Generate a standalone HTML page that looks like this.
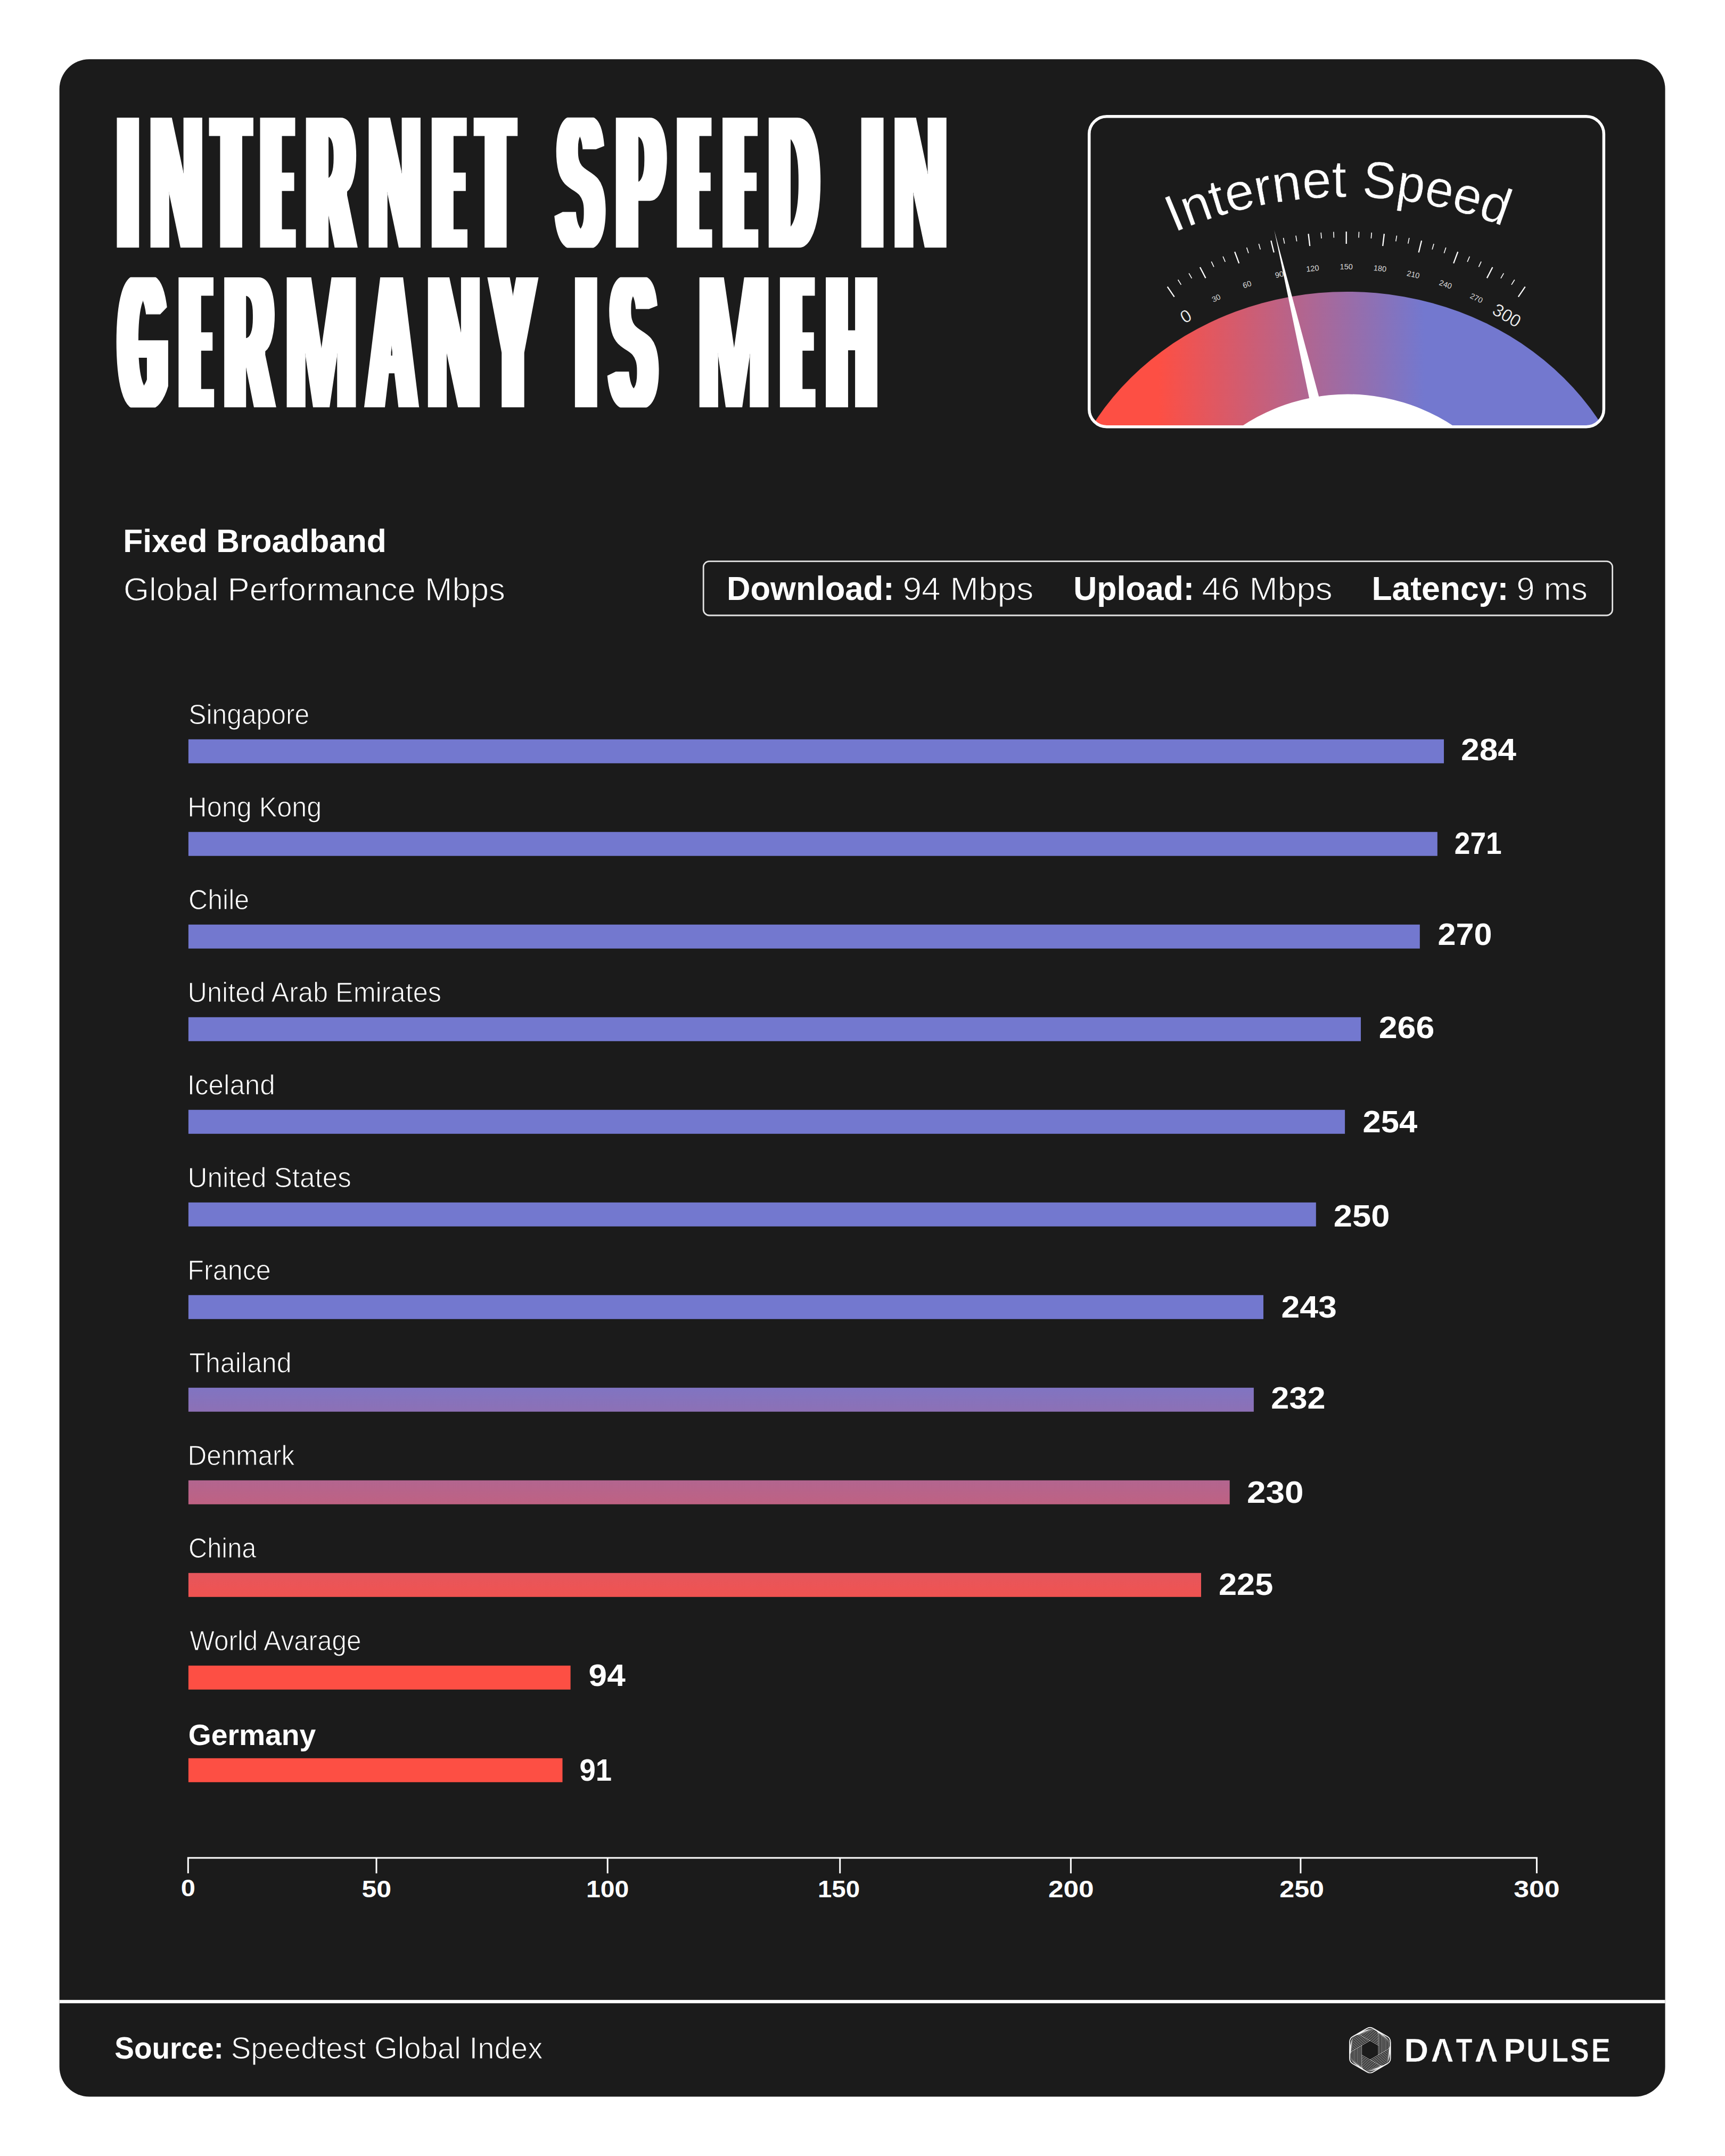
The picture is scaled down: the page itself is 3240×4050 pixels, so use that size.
<!DOCTYPE html>
<html lang="en"><head><meta charset="utf-8"><title>Internet Speed in Germany is Meh</title>
<style>html,body{margin:0;padding:0;background:#fff}svg{display:block}text{font-family:"Liberation Sans",sans-serif;white-space:pre}</style></head>
<body>
<svg width="3240" height="4050" viewBox="0 0 3240 4050">
<defs>
<filter id="d5" x="-40%" y="-5%" width="180%" height="110%"><feMorphology operator="erode" radius="0 3"/><feMorphology operator="dilate" radius="5 0"/></filter>
<filter id="d6" x="-40%" y="-5%" width="180%" height="110%"><feMorphology operator="erode" radius="0 3"/><feMorphology operator="dilate" radius="6 0"/></filter>
<filter id="d7" x="-40%" y="-5%" width="180%" height="110%"><feMorphology operator="erode" radius="0 3"/><feMorphology operator="dilate" radius="7 0"/></filter>
<filter id="d8" x="-40%" y="-5%" width="180%" height="110%"><feMorphology operator="erode" radius="0 3"/><feMorphology operator="dilate" radius="8 0"/></filter>
<filter id="d9" x="-40%" y="-5%" width="180%" height="110%"><feMorphology operator="erode" radius="0 3"/><feMorphology operator="dilate" radius="9 0"/></filter>
<filter id="d10" x="-40%" y="-5%" width="180%" height="110%"><feMorphology operator="erode" radius="0 3"/><feMorphology operator="dilate" radius="10 0"/></filter>
<filter id="d11" x="-40%" y="-5%" width="180%" height="110%"><feMorphology operator="erode" radius="0 3"/><feMorphology operator="dilate" radius="11 0"/></filter>
<filter id="d12" x="-40%" y="-5%" width="180%" height="110%"><feMorphology operator="erode" radius="0 3"/><feMorphology operator="dilate" radius="12 0"/></filter>
<filter id="d13" x="-40%" y="-5%" width="180%" height="110%"><feMorphology operator="erode" radius="0 3"/><feMorphology operator="dilate" radius="13 0"/></filter>
<filter id="d14" x="-40%" y="-5%" width="180%" height="110%"><feMorphology operator="erode" radius="0 3"/><feMorphology operator="dilate" radius="14 0"/></filter>
<filter id="d15" x="-40%" y="-5%" width="180%" height="110%"><feMorphology operator="erode" radius="0 3"/><feMorphology operator="dilate" radius="15 0"/></filter>
<filter id="d16" x="-40%" y="-5%" width="180%" height="110%"><feMorphology operator="erode" radius="0 3"/><feMorphology operator="dilate" radius="16 0"/></filter>
<filter id="d17" x="-40%" y="-5%" width="180%" height="110%"><feMorphology operator="erode" radius="0 3"/><feMorphology operator="dilate" radius="17 0"/></filter>
<filter id="d18" x="-40%" y="-5%" width="180%" height="110%"><feMorphology operator="erode" radius="0 3"/><feMorphology operator="dilate" radius="18 0"/></filter>
<filter id="d19" x="-40%" y="-5%" width="180%" height="110%"><feMorphology operator="erode" radius="0 3"/><feMorphology operator="dilate" radius="19 0"/></filter>
<linearGradient id="bg" gradientUnits="userSpaceOnUse" x1="0" y1="2562" x2="0" y2="3040"><stop offset="0" stop-color="#7378cf"/><stop offset="1" stop-color="#fd4f44"/></linearGradient>
<linearGradient id="gg" gradientUnits="userSpaceOnUse" x1="2176" y1="0" x2="2675" y2="0"><stop offset="0" stop-color="#fd4f44"/><stop offset="1" stop-color="#7378cf"/></linearGradient>
<clipPath id="gclip"><rect x="2045.75" y="218.75" width="966.6" height="582.9" rx="33"/></clipPath>
</defs>
<rect x="111.6" y="111.3" width="3016" height="3827.2" rx="56" fill="#1b1b1b"/>
<clipPath id="tc468"><rect x="150" y="220.7" width="1800" height="244.8"/></clipPath>
<g font-size="363.95" font-weight="700" fill="#fff" clip-path="url(#tc468)">
<g filter="url(#d13)"><text transform="translate(225.20 468.3) scale(0.2996 1)">I</text></g><g filter="url(#d9)"><text transform="translate(282.56 468.3) scale(0.3706 1)">N</text></g><g filter="url(#d14)"><text transform="translate(405.47 468.3) scale(0.2584 1)">T</text></g><g filter="url(#d16)"><text transform="translate(500.30 468.3) scale(0.1724 1)">E</text></g><g filter="url(#d13)"><text transform="translate(580.06 468.3) scale(0.3133 1)">R</text></g><g filter="url(#d9)"><text transform="translate(692.45 468.3) scale(0.3710 1)">N</text></g><g filter="url(#d16)"><text transform="translate(822.60 468.3) scale(0.1724 1)">E</text></g><g filter="url(#d14)"><text transform="translate(902.58 468.3) scale(0.2547 1)">T</text></g><text x="0" y="0" font-size="1" fill="none"> </text><g filter="url(#d12)"><text transform="translate(1049.27 468.3) scale(0.3344 1)">S</text></g><g filter="url(#d12)"><text transform="translate(1160.28 468.3) scale(0.3495 1)">P</text></g><g filter="url(#d17)"><text transform="translate(1284.44 468.3) scale(0.1582 1)">E</text></g><g filter="url(#d16)"><text transform="translate(1368.90 468.3) scale(0.1724 1)">E</text></g><g filter="url(#d12)"><text transform="translate(1447.78 468.3) scale(0.3290 1)">D</text></g><text x="0" y="0" font-size="1" fill="none"> </text><g filter="url(#d13)"><text transform="translate(1623.35 468.3) scale(0.3015 1)">I</text></g><g filter="url(#d9)"><text transform="translate(1680.25 468.3) scale(0.3710 1)">N</text></g></g>
<clipPath id="tc768"><rect x="150" y="520.7" width="1800" height="244.8"/></clipPath>
<g font-size="363.95" font-weight="700" fill="#fff" clip-path="url(#tc768)">
<g filter="url(#d13)"><text transform="translate(227.27 768.3) scale(0.2902 1)">G</text></g><g filter="url(#d17)"><text transform="translate(348.48 768.3) scale(0.1606 1)">E</text></g><g filter="url(#d12)"><text transform="translate(425.30 768.3) scale(0.3242 1)">R</text></g><g filter="url(#d7)"><text transform="translate(534.50 768.3) scale(0.4552 1)">M</text></g><g filter="url(#d11)"><text transform="translate(691.12 768.3) scale(0.3390 1)">A</text></g><g filter="url(#d9)"><text transform="translate(803.75 768.3) scale(0.3710 1)">N</text></g><g filter="url(#d13)"><text transform="translate(925.26 768.3) scale(0.3142 1)">Y</text></g><text x="0" y="0" font-size="1" fill="none"> </text><g filter="url(#d13)"><text transform="translate(1085.55 768.3) scale(0.3015 1)">I</text></g><g filter="url(#d12)"><text transform="translate(1148.65 768.3) scale(0.3367 1)">S</text></g><text x="0" y="0" font-size="1" fill="none"> </text><g filter="url(#d7)"><text transform="translate(1309.60 768.3) scale(0.4552 1)">M</text></g><g filter="url(#d17)"><text transform="translate(1477.98 768.3) scale(0.1606 1)">E</text></g><g filter="url(#d12)"><text transform="translate(1554.79 768.3) scale(0.3406 1)">H</text></g></g>
<g clip-path="url(#gclip)">
<ellipse cx="2530.5" cy="1041" rx="549" ry="493" fill="url(#gg)"/>
<circle cx="2531.5" cy="1100.5" r="360" fill="#fff"/>
<polygon points="2393.4,432.6 2459.5,750 2478,748" fill="#fff"/>
</g>
<line x1="2192.71" y1="538.53" x2="2205.65" y2="557.54" stroke="#fff" stroke-width="2.3"/>
<line x1="2212.63" y1="525.53" x2="2218.46" y2="534.86" stroke="#fff" stroke-width="1.6"/>
<line x1="2233.06" y1="513.34" x2="2238.51" y2="522.90" stroke="#fff" stroke-width="1.6"/>
<line x1="2253.96" y1="501.97" x2="2264.55" y2="522.39" stroke="#fff" stroke-width="2.3"/>
<line x1="2275.30" y1="491.45" x2="2279.96" y2="501.41" stroke="#fff" stroke-width="1.6"/>
<line x1="2297.03" y1="481.78" x2="2301.30" y2="491.92" stroke="#fff" stroke-width="1.6"/>
<line x1="2319.14" y1="472.99" x2="2327.21" y2="494.53" stroke="#fff" stroke-width="2.3"/>
<line x1="2341.58" y1="465.08" x2="2345.02" y2="475.53" stroke="#fff" stroke-width="1.6"/>
<line x1="2364.31" y1="458.08" x2="2367.34" y2="468.65" stroke="#fff" stroke-width="1.6"/>
<line x1="2387.31" y1="451.99" x2="2392.75" y2="474.33" stroke="#fff" stroke-width="2.3"/>
<line x1="2410.53" y1="446.81" x2="2412.71" y2="457.59" stroke="#fff" stroke-width="1.6"/>
<line x1="2433.94" y1="442.57" x2="2435.68" y2="453.43" stroke="#fff" stroke-width="1.6"/>
<line x1="2457.50" y1="439.26" x2="2460.24" y2="462.10" stroke="#fff" stroke-width="2.3"/>
<line x1="2481.17" y1="436.90" x2="2482.04" y2="447.86" stroke="#fff" stroke-width="1.6"/>
<line x1="2504.91" y1="435.47" x2="2505.35" y2="446.47" stroke="#fff" stroke-width="1.6"/>
<line x1="2528.70" y1="435.00" x2="2528.70" y2="458.00" stroke="#fff" stroke-width="2.3"/>
<line x1="2552.49" y1="435.47" x2="2552.05" y2="446.47" stroke="#fff" stroke-width="1.6"/>
<line x1="2576.23" y1="436.90" x2="2575.36" y2="447.86" stroke="#fff" stroke-width="1.6"/>
<line x1="2599.90" y1="439.26" x2="2597.16" y2="462.10" stroke="#fff" stroke-width="2.3"/>
<line x1="2623.46" y1="442.57" x2="2621.72" y2="453.43" stroke="#fff" stroke-width="1.6"/>
<line x1="2646.87" y1="446.81" x2="2644.69" y2="457.59" stroke="#fff" stroke-width="1.6"/>
<line x1="2670.09" y1="451.99" x2="2664.65" y2="474.33" stroke="#fff" stroke-width="2.3"/>
<line x1="2693.09" y1="458.08" x2="2690.06" y2="468.65" stroke="#fff" stroke-width="1.6"/>
<line x1="2715.82" y1="465.08" x2="2712.38" y2="475.53" stroke="#fff" stroke-width="1.6"/>
<line x1="2738.26" y1="472.99" x2="2730.19" y2="494.53" stroke="#fff" stroke-width="2.3"/>
<line x1="2760.37" y1="481.78" x2="2756.10" y2="491.92" stroke="#fff" stroke-width="1.6"/>
<line x1="2782.10" y1="491.45" x2="2777.44" y2="501.41" stroke="#fff" stroke-width="1.6"/>
<line x1="2803.44" y1="501.97" x2="2792.85" y2="522.39" stroke="#fff" stroke-width="2.3"/>
<line x1="2824.34" y1="513.34" x2="2818.89" y2="522.90" stroke="#fff" stroke-width="1.6"/>
<line x1="2844.77" y1="525.53" x2="2838.94" y2="534.86" stroke="#fff" stroke-width="1.6"/>
<line x1="2864.69" y1="538.53" x2="2851.75" y2="557.54" stroke="#fff" stroke-width="2.3"/>
<text transform="translate(2232.9 603.9) rotate(-30)" text-anchor="middle" font-size="33" fill="#fff" stroke="#1b1b1b" stroke-width="0.5">0</text>
<text transform="translate(2286.40 564.57) rotate(-25.76)" text-anchor="middle" font-size="14.5" fill="#fff" fill-opacity="0.85">30</text>
<text transform="translate(2343.89 539.00) rotate(-19.32)" text-anchor="middle" font-size="14.5" fill="#fff" fill-opacity="0.85">60</text>
<text transform="translate(2404.00 520.48) rotate(-12.88)" text-anchor="middle" font-size="14.5" fill="#fff" fill-opacity="0.85">90</text>
<text transform="translate(2465.90 509.26) rotate(-6.44)" text-anchor="middle" font-size="14.5" fill="#fff" fill-opacity="0.85">120</text>
<text transform="translate(2528.70 505.50) rotate(0.00)" text-anchor="middle" font-size="14.5" fill="#fff" fill-opacity="0.85">150</text>
<text transform="translate(2591.50 509.26) rotate(6.44)" text-anchor="middle" font-size="14.5" fill="#fff" fill-opacity="0.85">180</text>
<text transform="translate(2653.40 520.48) rotate(12.88)" text-anchor="middle" font-size="14.5" fill="#fff" fill-opacity="0.85">210</text>
<text transform="translate(2713.51 539.00) rotate(19.32)" text-anchor="middle" font-size="14.5" fill="#fff" fill-opacity="0.85">240</text>
<text transform="translate(2771.00 564.57) rotate(25.76)" text-anchor="middle" font-size="14.5" fill="#fff" fill-opacity="0.85">270</text>
<text transform="translate(2824.6 602.3) rotate(30)" text-anchor="middle" font-size="33" fill="#fff" stroke="#1b1b1b" stroke-width="0.5">300</text>
<path id="arc" d="M 1718.7 1180 A 810 810 0 0 1 3338.7 1180" fill="none"/>
<text font-size="98" fill="#fff" stroke="#1b1b1b" stroke-width="0.6"><textPath href="#arc" startOffset="939.9" textLength="360.5" lengthAdjust="spacingAndGlyphs">Internet </textPath></text><text font-size="98" fill="#fff" stroke="#1b1b1b" stroke-width="0.6"><textPath href="#arc" startOffset="1301" textLength="272.9" lengthAdjust="spacingAndGlyphs">Speed</textPath></text>
<rect x="2045.75" y="218.75" width="966.6" height="582.9" rx="33" fill="none" stroke="#fff" stroke-width="5.5"/>
<text x="231.21" y="1037.20" font-size="61" font-weight="700" textLength="494.64" lengthAdjust="spacingAndGlyphs" fill="#fff" >Fixed Broadband</text>
<text x="232.11" y="1128.00" font-size="61" textLength="716.78" lengthAdjust="spacingAndGlyphs" fill="#fff" stroke="#1b1b1b" stroke-width="1.25">Global Performance Mbps</text>
<rect x="1321.2" y="1054.4" width="1707.4" height="101.6" rx="11" fill="none" stroke="#e2e2e2" stroke-width="2.8"/>
<text x="1365.05" y="1126.60" font-size="62.2" font-weight="700" textLength="314.53" lengthAdjust="spacingAndGlyphs" fill="#fff" >Download:</text>
<text x="1695.46" y="1126.60" font-size="61.5" textLength="245.82" lengthAdjust="spacingAndGlyphs" fill="#fff" stroke="#1b1b1b" stroke-width="1.25">94 Mbps</text>
<text x="2016.34" y="1126.60" font-size="62.2" font-weight="700" textLength="226.80" lengthAdjust="spacingAndGlyphs" fill="#fff" >Upload:</text>
<text x="2257.56" y="1126.60" font-size="61.5" textLength="245.11" lengthAdjust="spacingAndGlyphs" fill="#fff" stroke="#1b1b1b" stroke-width="1.25">46 Mbps</text>
<text x="2576.38" y="1126.60" font-size="62.2" font-weight="700" textLength="256.95" lengthAdjust="spacingAndGlyphs" fill="#fff" >Latency:</text>
<text x="2848.27" y="1126.60" font-size="61.5" textLength="133.66" lengthAdjust="spacingAndGlyphs" fill="#fff" stroke="#1b1b1b" stroke-width="1.25">9 ms</text>
<rect x="353.9" y="1388.8" width="2358.1" height="45" fill="url(#bg)"/>
<text x="354.26" y="1360.20" font-size="51" textLength="227.04" lengthAdjust="spacingAndGlyphs" fill="#fff" stroke="#1b1b1b" stroke-width="1.1">Singapore</text>
<text x="2744.02" y="1428.20" font-size="58" font-weight="700" textLength="103.96" lengthAdjust="spacingAndGlyphs" fill="#fff" >284</text>
<rect x="353.9" y="1562.8" width="2345.9" height="45" fill="url(#bg)"/>
<text x="352.35" y="1534.20" font-size="51" textLength="251.98" lengthAdjust="spacingAndGlyphs" fill="#fff" stroke="#1b1b1b" stroke-width="1.1">Hong Kong</text>
<text x="2731.84" y="1603.80" font-size="58" font-weight="700" textLength="88.88" lengthAdjust="spacingAndGlyphs" fill="#fff" >271</text>
<rect x="353.9" y="1736.8" width="2312.9" height="45" fill="url(#bg)"/>
<text x="353.99" y="1708.20" font-size="51" textLength="114.21" lengthAdjust="spacingAndGlyphs" fill="#fff" stroke="#1b1b1b" stroke-width="1.1">Chile</text>
<text x="2700.56" y="1775.30" font-size="58" font-weight="700" textLength="101.94" lengthAdjust="spacingAndGlyphs" fill="#fff" >270</text>
<rect x="353.9" y="1910.8" width="2202.1" height="45" fill="url(#bg)"/>
<text x="352.59" y="1882.20" font-size="51" textLength="476.32" lengthAdjust="spacingAndGlyphs" fill="#fff" stroke="#1b1b1b" stroke-width="1.1">United Arab Emirates</text>
<text x="2589.71" y="1949.60" font-size="58" font-weight="700" textLength="104.55" lengthAdjust="spacingAndGlyphs" fill="#fff" >266</text>
<rect x="353.9" y="2084.8" width="2172.2" height="45" fill="url(#bg)"/>
<text x="351.77" y="2056.20" font-size="51" textLength="165.05" lengthAdjust="spacingAndGlyphs" fill="#fff" stroke="#1b1b1b" stroke-width="1.1">Iceland</text>
<text x="2559.55" y="2126.90" font-size="58" font-weight="700" textLength="102.52" lengthAdjust="spacingAndGlyphs" fill="#fff" >254</text>
<rect x="353.9" y="2258.8" width="2117.9" height="45" fill="url(#bg)"/>
<text x="352.53" y="2230.20" font-size="51" textLength="307.32" lengthAdjust="spacingAndGlyphs" fill="#fff" stroke="#1b1b1b" stroke-width="1.1">United States</text>
<text x="2504.78" y="2303.60" font-size="58" font-weight="700" textLength="105.61" lengthAdjust="spacingAndGlyphs" fill="#fff" >250</text>
<rect x="353.9" y="2432.8" width="2019.1" height="45" fill="url(#bg)"/>
<text x="352.35" y="2404.20" font-size="51" textLength="156.40" lengthAdjust="spacingAndGlyphs" fill="#fff" stroke="#1b1b1b" stroke-width="1.1">France</text>
<text x="2406.41" y="2475.10" font-size="58" font-weight="700" textLength="104.55" lengthAdjust="spacingAndGlyphs" fill="#fff" >243</text>
<rect x="353.9" y="2606.8" width="2001.0" height="45" fill="url(#bg)"/>
<text x="355.37" y="2578.20" font-size="51" textLength="192.21" lengthAdjust="spacingAndGlyphs" fill="#fff" stroke="#1b1b1b" stroke-width="1.1">Thailand</text>
<text x="2387.36" y="2646.20" font-size="58" font-weight="700" textLength="102.10" lengthAdjust="spacingAndGlyphs" fill="#fff" >232</text>
<rect x="353.9" y="2780.8" width="1955.8" height="45" fill="url(#bg)"/>
<text x="352.42" y="2752.20" font-size="51" textLength="200.85" lengthAdjust="spacingAndGlyphs" fill="#fff" stroke="#1b1b1b" stroke-width="1.1">Denmark</text>
<text x="2342.06" y="2822.90" font-size="58" font-weight="700" textLength="106.55" lengthAdjust="spacingAndGlyphs" fill="#fff" >230</text>
<rect x="353.9" y="2954.8" width="1902.1" height="45" fill="url(#bg)"/>
<text x="354.06" y="2926.20" font-size="51" textLength="127.33" lengthAdjust="spacingAndGlyphs" fill="#fff" stroke="#1b1b1b" stroke-width="1.1">China</text>
<text x="2289.06" y="2996.30" font-size="58" font-weight="700" textLength="102.19" lengthAdjust="spacingAndGlyphs" fill="#fff" >225</text>
<rect x="353.9" y="3128.8" width="717.7" height="45" fill="url(#bg)"/>
<text x="356.25" y="3100.20" font-size="51" textLength="322.16" lengthAdjust="spacingAndGlyphs" fill="#fff" stroke="#1b1b1b" stroke-width="1.1">World Avarage</text>
<text x="1105.63" y="3166.50" font-size="58" font-weight="700" textLength="69.03" lengthAdjust="spacingAndGlyphs" fill="#fff" >94</text>
<rect x="353.9" y="3302.8" width="702.6" height="45" fill="url(#bg)"/>
<text x="353.69" y="3278.40" font-size="55" font-weight="700" textLength="239.62" lengthAdjust="spacingAndGlyphs" fill="#fff" >Germany</text>
<text x="1088.49" y="3344.50" font-size="58" font-weight="700" textLength="60.63" lengthAdjust="spacingAndGlyphs" fill="#fff" >91</text>
<path d="M353.3 3519.1 V3489.9 H2886.4 V3519.1" fill="none" stroke="#fff" stroke-width="3"/>
<line x1="707" y1="3489.9" x2="707" y2="3519.1" stroke="#fff" stroke-width="3"/>
<line x1="1141.2" y1="3489.9" x2="1141.2" y2="3519.1" stroke="#fff" stroke-width="3"/>
<line x1="1577.7" y1="3489.9" x2="1577.7" y2="3519.1" stroke="#fff" stroke-width="3"/>
<line x1="2011.3" y1="3489.9" x2="2011.3" y2="3519.1" stroke="#fff" stroke-width="3"/>
<line x1="2442.9" y1="3489.9" x2="2442.9" y2="3519.1" stroke="#fff" stroke-width="3"/>
<text x="339.75" y="3562.20" font-size="44.5" font-weight="700" textLength="27.16" lengthAdjust="spacingAndGlyphs" fill="#fff" >0</text>
<text x="679.50" y="3564.10" font-size="44.5" font-weight="700" textLength="55.62" lengthAdjust="spacingAndGlyphs" fill="#fff" >50</text>
<text x="1100.99" y="3564.10" font-size="44.5" font-weight="700" textLength="80.39" lengthAdjust="spacingAndGlyphs" fill="#fff" >100</text>
<text x="1535.94" y="3564.10" font-size="44.5" font-weight="700" textLength="79.11" lengthAdjust="spacingAndGlyphs" fill="#fff" >150</text>
<text x="1968.95" y="3564.10" font-size="44.5" font-weight="700" textLength="85.60" lengthAdjust="spacingAndGlyphs" fill="#fff" >200</text>
<text x="2403.24" y="3564.10" font-size="44.5" font-weight="700" textLength="83.82" lengthAdjust="spacingAndGlyphs" fill="#fff" >250</text>
<text x="2843.39" y="3564.10" font-size="44.5" font-weight="700" textLength="86.18" lengthAdjust="spacingAndGlyphs" fill="#fff" >300</text>
<rect x="111.6" y="3756.8" width="3016" height="6.3" fill="#fff"/>
<text x="215.35" y="3867.10" font-size="58" font-weight="700" textLength="204.51" lengthAdjust="spacingAndGlyphs" fill="#fff" >Source:</text>
<text x="433.66" y="3867.10" font-size="58" textLength="585.68" lengthAdjust="spacingAndGlyphs" fill="#fff" stroke="#1b1b1b" stroke-width="1.25">Speedtest Global Index</text>
<g font-size="63" font-weight="700" fill="#fff" stroke="#1b1b1b" stroke-width="0.6"><text transform="translate(2637.30 3872.9) scale(1.0107 1)">D</text><text transform="translate(2687.51 3872.9) scale(0.9476 1)">A</text><text transform="translate(2734.49 3872.9) scale(0.8071 1)">T</text><text transform="translate(2769.47 3872.9) scale(0.9713 1)">A</text><text x="0" y="0" font-size="1" fill="none"> </text><text transform="translate(2824.60 3872.9) scale(0.9636 1)">P</text><text transform="translate(2866.97 3872.9) scale(0.9063 1)">U</text><text transform="translate(2913.97 3872.9) scale(0.8300 1)">L</text><text transform="translate(2949.10 3872.9) scale(0.8474 1)">S</text><text transform="translate(2988.41 3872.9) scale(0.8673 1)">E</text></g>
<polygon points="2697.73,3874.79 2720.45,3874.79 2709.09,3836.55" fill="#1b1b1b"/>
<polygon points="2779.95,3874.79 2803.24,3874.79 2791.59,3836.55" fill="#1b1b1b"/>
<g fill="none" stroke="#fff" stroke-width="0.75" stroke-opacity="0.9" stroke-linecap="round">
<g transform="translate(2573.3 3851.2) rotate(0)">
<path d="M15.76 9.10L15.76 -29.40Q15.76 -33.90 12.66 -35.69M18.40 7.57L18.40 -27.37Q18.40 -32.37 13.18 -35.39M21.05 6.05L21.05 -25.35Q21.05 -30.85 13.70 -35.09M23.69 4.52L23.69 -23.32Q23.69 -29.32 14.23 -34.79M26.33 3.00L26.33 -21.30Q26.33 -27.80 14.75 -34.49M28.97 1.47L28.97 -19.27Q28.97 -26.27 15.27 -34.19M31.62 -0.05L31.62 -17.25Q31.62 -24.75 15.79 -33.88M34.26 -1.58L34.26 -15.22Q34.26 -23.22 16.31 -33.58M36.90 -3.10L36.90 -13.20Q36.90 -21.70 16.83 -33.28"/>
</g>
<g transform="translate(2573.3 3851.2) rotate(60)">
<path d="M15.76 9.10L15.76 -29.40Q15.76 -33.90 12.66 -35.69M18.40 7.57L18.40 -27.37Q18.40 -32.37 13.18 -35.39M21.05 6.05L21.05 -25.35Q21.05 -30.85 13.70 -35.09M23.69 4.52L23.69 -23.32Q23.69 -29.32 14.23 -34.79M26.33 3.00L26.33 -21.30Q26.33 -27.80 14.75 -34.49M28.97 1.47L28.97 -19.27Q28.97 -26.27 15.27 -34.19M31.62 -0.05L31.62 -17.25Q31.62 -24.75 15.79 -33.88M34.26 -1.58L34.26 -15.22Q34.26 -23.22 16.31 -33.58M36.90 -3.10L36.90 -13.20Q36.90 -21.70 16.83 -33.28"/>
</g>
<g transform="translate(2573.3 3851.2) rotate(120)">
<path d="M15.76 9.10L15.76 -29.40Q15.76 -33.90 12.66 -35.69M18.40 7.57L18.40 -27.37Q18.40 -32.37 13.18 -35.39M21.05 6.05L21.05 -25.35Q21.05 -30.85 13.70 -35.09M23.69 4.52L23.69 -23.32Q23.69 -29.32 14.23 -34.79M26.33 3.00L26.33 -21.30Q26.33 -27.80 14.75 -34.49M28.97 1.47L28.97 -19.27Q28.97 -26.27 15.27 -34.19M31.62 -0.05L31.62 -17.25Q31.62 -24.75 15.79 -33.88M34.26 -1.58L34.26 -15.22Q34.26 -23.22 16.31 -33.58M36.90 -3.10L36.90 -13.20Q36.90 -21.70 16.83 -33.28"/>
</g>
<g transform="translate(2573.3 3851.2) rotate(180)">
<path d="M15.76 9.10L15.76 -29.40Q15.76 -33.90 12.66 -35.69M18.40 7.57L18.40 -27.37Q18.40 -32.37 13.18 -35.39M21.05 6.05L21.05 -25.35Q21.05 -30.85 13.70 -35.09M23.69 4.52L23.69 -23.32Q23.69 -29.32 14.23 -34.79M26.33 3.00L26.33 -21.30Q26.33 -27.80 14.75 -34.49M28.97 1.47L28.97 -19.27Q28.97 -26.27 15.27 -34.19M31.62 -0.05L31.62 -17.25Q31.62 -24.75 15.79 -33.88M34.26 -1.58L34.26 -15.22Q34.26 -23.22 16.31 -33.58M36.90 -3.10L36.90 -13.20Q36.90 -21.70 16.83 -33.28"/>
</g>
<g transform="translate(2573.3 3851.2) rotate(240)">
<path d="M15.76 9.10L15.76 -29.40Q15.76 -33.90 12.66 -35.69M18.40 7.57L18.40 -27.37Q18.40 -32.37 13.18 -35.39M21.05 6.05L21.05 -25.35Q21.05 -30.85 13.70 -35.09M23.69 4.52L23.69 -23.32Q23.69 -29.32 14.23 -34.79M26.33 3.00L26.33 -21.30Q26.33 -27.80 14.75 -34.49M28.97 1.47L28.97 -19.27Q28.97 -26.27 15.27 -34.19M31.62 -0.05L31.62 -17.25Q31.62 -24.75 15.79 -33.88M34.26 -1.58L34.26 -15.22Q34.26 -23.22 16.31 -33.58M36.90 -3.10L36.90 -13.20Q36.90 -21.70 16.83 -33.28"/>
</g>
<g transform="translate(2573.3 3851.2) rotate(300)">
<path d="M15.76 9.10L15.76 -29.40Q15.76 -33.90 12.66 -35.69M18.40 7.57L18.40 -27.37Q18.40 -32.37 13.18 -35.39M21.05 6.05L21.05 -25.35Q21.05 -30.85 13.70 -35.09M23.69 4.52L23.69 -23.32Q23.69 -29.32 14.23 -34.79M26.33 3.00L26.33 -21.30Q26.33 -27.80 14.75 -34.49M28.97 1.47L28.97 -19.27Q28.97 -26.27 15.27 -34.19M31.62 -0.05L31.62 -17.25Q31.62 -24.75 15.79 -33.88M34.26 -1.58L34.26 -15.22Q34.26 -23.22 16.31 -33.58M36.90 -3.10L36.90 -13.20Q36.90 -21.70 16.83 -33.28"/>
</g>
</g>
<path d="M2567.24 3810.40Q2573.30 3806.90 2579.36 3810.40L2605.60 3825.55Q2611.66 3829.05 2611.66 3836.05L2611.66 3866.35Q2611.66 3873.35 2605.60 3876.85L2579.36 3892.00Q2573.30 3895.50 2567.24 3892.00L2541.00 3876.85Q2534.94 3873.35 2534.94 3866.35L2534.94 3836.05Q2534.94 3829.05 2541.00 3825.55Z" fill="none" stroke="#fff" stroke-width="1.7"/>
</svg>
</body></html>
